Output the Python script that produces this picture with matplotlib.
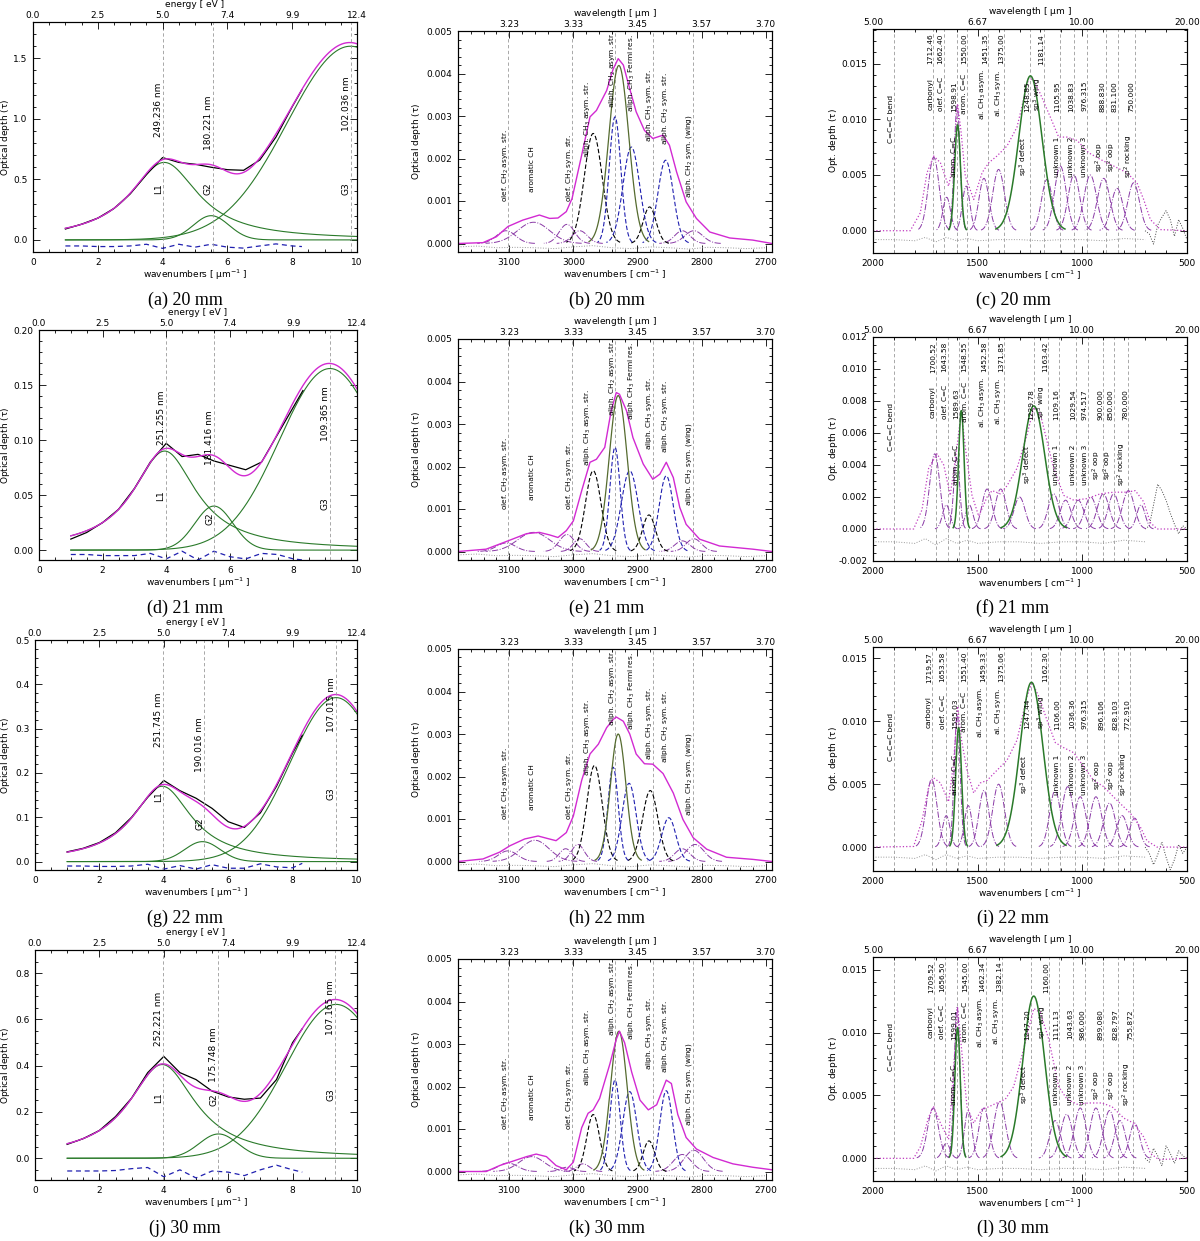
import numpy as np
import matplotlib.pyplot as plt
from matplotlib.ticker import MultipleLocator, FixedLocator, FormatStrFormatter

plt.rcParams['font.family'] = 'DejaVu Sans'
plt.rcParams['font.size'] = 6.5
plt.rcParams['mathtext.default'] = 'regular'

# ---------------- UV panels (a, d, g, j) ----------------
uv_captions = ['(a) 20 mm', '(d) 21 mm', '(g) 22 mm', '(j) 30 mm']
uv_ylim = [(-0.1, 1.8), (-0.009, 0.2), (-0.019, 0.5), (-0.094, 0.9)]
uv_yticks = [[0.0, 0.5, 1.0, 1.5], [0.0, 0.05, 0.10, 0.15, 0.20],
             [0.0, 0.1, 0.2, 0.3, 0.4, 0.5], [0.0, 0.2, 0.4, 0.6, 0.8]]
uv_yminor = [0.1, 0.01, 0.02, 0.05]
uv_yfmt = ['%.1f', '%.2f', '%.1f', '%.1f']
# components: (centre, width, height)
uv_l1 = [(4.05, 1.28, 0.64), (3.95, 1.21, 0.09), (3.95, 1.117, 0.17), (3.95, 1.265, 0.405)]
uv_g2 = [(5.5, 0.55, 0.20), (5.5, 0.60, 0.04), (5.2, 0.55, 0.045), (5.7, 0.60, 0.105)]
uv_g3 = [(9.8, 1.95, 1.60), (9.15, 1.59, 0.165), (9.35, 1.42, 0.37), (9.35, 1.55, 0.665)]
uv_x = [1.0, 1.5, 2.0, 2.5, 3.0, 3.5, 4.0, 4.5, 5.0, 5.5, 6.0, 6.5, 7.0, 7.5, 8.0, 8.3]
uv_data = [
    [0.09, 0.13, 0.18, 0.26, 0.38, 0.54, 0.68, 0.64, 0.625, 0.60, 0.58, 0.575, 0.66, 0.85, 1.10, 1.24],
    [0.010, 0.016, 0.025, 0.037, 0.056, 0.080, 0.097, 0.085, 0.087, 0.081, 0.077, 0.073, 0.080, 0.105, 0.130, 0.145],
    [0.022, 0.030, 0.043, 0.065, 0.100, 0.145, 0.183, 0.160, 0.143, 0.120, 0.090, 0.077, 0.110, 0.170, 0.245, 0.285],
    [0.060, 0.085, 0.120, 0.180, 0.260, 0.370, 0.440, 0.370, 0.340, 0.290, 0.265, 0.255, 0.260, 0.340, 0.500, 0.560],
]
uv_resid = [
    [-0.05, -0.05, -0.055, -0.055, -0.05, -0.036, -0.07, -0.036, -0.06, -0.036, -0.06, -0.068, -0.05, -0.033, -0.05, -0.055],
    [-0.004, -0.004, -0.005, -0.005, -0.005, -0.003, -0.008, -0.001, -0.009, -0.001, -0.006, -0.008, -0.003, -0.004, -0.008, -0.009],
    [-0.01, -0.01, -0.011, -0.011, -0.01, -0.006, -0.017, -0.009, -0.017, -0.007, -0.015, -0.015, -0.005, -0.012, -0.014, -0.004],
    [-0.055, -0.055, -0.055, -0.053, -0.045, -0.04, -0.08, -0.05, -0.085, -0.055, -0.06, -0.075, -0.05, -0.03, -0.05, -0.06],
]
uv_nm = [[249.236, 180.221, 102.036], [251.255, 181.416, 109.365],
         [251.745, 190.016, 107.015], [252.221, 175.748, 107.165]]
uv_comp_names = ['L1', 'G2', 'G3']
uv_nm_y = [[0.62, 0.56, 0.645], [0.62, 0.53, 0.636], [0.654, 0.545, 0.72], [0.70, 0.547, 0.75]]
uv_name_y = [[0.275, 0.275, 0.275], [0.28, 0.18, 0.245], [0.32, 0.20, 0.33], [0.357, 0.35, 0.372]]

# ---------------- 3.4 micron panels (b, e, h, k) ----------------
ch_captions = ['(b) 20 mm', '(e) 21 mm', '(h) 22 mm', '(k) 30 mm']
ch_obs_x = [
    [3180, 3141, 3120, 3102, 3079, 3053, 3037, 3024, 3011, 3002, 2987, 2974, 2964, 2948, 2938, 2930, 2922,
     2912, 2902, 2889, 2876, 2860, 2850, 2839, 2824, 2808, 2787, 2756, 2720, 2690],
    [3180, 3136, 3102, 3073, 3053, 3037, 3024, 3011, 3000, 2987, 2974, 2964, 2951, 2941, 2933, 2928, 2917,
     2907, 2891, 2876, 2865, 2855, 2844, 2834, 2824, 2803, 2772, 2720, 2690],
    [3180, 3141, 3115, 3099, 3076, 3055, 3040, 3027, 3011, 3000, 2987, 2974, 2961, 2948, 2938, 2933, 2922,
     2912, 2902, 2889, 2876, 2860, 2844, 2829, 2813, 2792, 2761, 2720, 2690],
    [3180, 3136, 3115, 3099, 3073, 3058, 3042, 3027, 3011, 3000, 2987, 2977, 2969, 2959, 2943, 2933, 2928,
     2920, 2909, 2896, 2883, 2870, 2855, 2847, 2837, 2824, 2808, 2782, 2751, 2720, 2690],
]
ch_obs_y = [
    [0.0, 0.00002, 0.00016, 0.00040, 0.00055, 0.00067, 0.00059, 0.00060, 0.00075, 0.00106, 0.00208, 0.00298,
     0.00313, 0.00360, 0.00410, 0.00435, 0.00420, 0.00364, 0.00310, 0.00266, 0.00247, 0.00255, 0.00231,
     0.00169, 0.00098, 0.00059, 0.00027, 0.00013, 0.00008, 0.0],
    [0.0, 0.000055, 0.00025, 0.00042, 0.00045, 0.00039, 0.00033, 0.00049, 0.00072, 0.00143, 0.00210, 0.00217,
     0.00245, 0.00331, 0.00374, 0.00370, 0.00331, 0.00268, 0.00206, 0.00170, 0.00182, 0.00210, 0.00174,
     0.00104, 0.00064, 0.00029, 0.00013, 0.000055, 0.0],
    [0.0, 0.00006, 0.00022, 0.00037, 0.00053, 0.00060, 0.00054, 0.00049, 0.00068, 0.00107, 0.00191, 0.00253,
     0.00276, 0.00315, 0.00334, 0.00340, 0.00330, 0.00300, 0.00253, 0.00230, 0.00229, 0.00207, 0.00161,
     0.00099, 0.00056, 0.00029, 0.00010, 0.00005, 0.0],
    [0.0, 0.0, 0.00014, 0.00022, 0.00035, 0.00041, 0.00035, 0.00014, 0.00004, 0.00022, 0.00103, 0.00137,
     0.00145, 0.00172, 0.00253, 0.00311, 0.00330, 0.00303, 0.00234, 0.00168, 0.00145, 0.00157, 0.00215,
     0.00207, 0.00134, 0.00080, 0.00053, 0.00033, 0.00018, 0.00010, 0.00004],
]
# (centre, sigma, height)
ch_black = [
    [(2969, 14, 0.00259), (2881, 10, 0.00086)],
    [(2969, 12, 0.00190), (2882, 10, 0.00086)],
    [(2967, 12, 0.00226), (2880, 12, 0.00167)],
    [(2969, 10, 0.00134), (2882, 9, 0.00072)],
]
ch_blue = [
    [(2935, 9, 0.00298), (2909.5, 13, 0.00227), (2856, 12, 0.00196)],
    [(2935, 8, 0.00245), (2912, 13, 0.00190), (2855, 11, 0.00178)],
    [(2938, 8, 0.00222), (2913, 11, 0.00184), (2851, 11, 0.00103)],
    [(2935, 8, 0.00215), (2912, 11, 0.00188), (2855, 10, 0.00190)],
]
ch_olive = [(2929, 15.5, 0.00419), (2930, 14, 0.00367), (2930, 12, 0.00300), (2929, 13, 0.00330)]
ch_purple = [
    [(3105, 15, 0.00030), (3062, 25, 0.00050), (3010, 12, 0.00045), (2990, 12, 0.00030),
     (2830, 12, 0.00030), (2812, 14, 0.00030)],
    [(3105, 15, 0.00020), (3062, 25, 0.00045), (3010, 12, 0.00040), (2990, 10, 0.00030),
     (2830, 12, 0.00025), (2812, 12, 0.00030)],
    [(3102, 15, 0.00025), (3060, 22, 0.00050), (3012, 10, 0.00030), (2993, 10, 0.00040),
     (2830, 12, 0.00030), (2810, 14, 0.00040)],
    [(3102, 15, 0.00020), (3065, 20, 0.00035), (3010, 10, 0.00010), (2985, 10, 0.00018),
     (2830, 14, 0.00040), (2812, 15, 0.00050)],
]
ch_res_x = [3180, 3150, 3120, 3090, 3060, 3030, 3000, 2970, 2940, 2910, 2880, 2850, 2820, 2790, 2760, 2730, 2700]
ch_res_y = [-0.00008, -0.00006, -0.0001, -0.00009, -0.0001, -0.00012, -0.00008, -0.00005, -0.0001,
            -0.00012, -0.00008, -0.0001, -0.00013, -0.00009, -0.0001, -0.00012, -0.0001]
ch_lines = [3102, 3002, 2935, 2876, 2814]
ch_label_x = [3106, 3064, 3006, 2977, 2938, 2908, 2881, 2855, 2819]
ch_label_y = [0.00098, 0.00122, 0.00098, 0.0020, 0.00318, 0.0031, 0.00239, 0.00231, 0.00106]
ch_labels = ['olef. CH$_2$ asym. str.', 'aromatic CH', 'olef. CH$_2$ sym. str.',
             'aliph. CH$_3$ asym. str.', 'aliph. CH$_2$ asym. str.', 'aliph. CH$_3$ Fermi res.',
             'aliph. CH$_3$ sym. str.', 'aliph. CH$_2$ sym. str.', 'aliph. CH$_2$ sym. (wing)']

# ---------------- 5-20 micron panels (c, f, i, l) ----------------
ir_captions = ['(c) 20 mm', '(f) 21 mm', '(i) 22 mm', '(l) 30 mm']
ir_ylim = [(-0.002, 0.0181), (-0.002, 0.012), (-0.0019, 0.0159), (-0.0018, 0.016)]
ir_yticks = [[0.0, 0.005, 0.010, 0.015], [-0.002, 0.0, 0.002, 0.004, 0.006, 0.008, 0.010, 0.012],
             [0.0, 0.005, 0.010, 0.015], [0.0, 0.005, 0.010, 0.015]]
ir_yminor = [0.001, 0.0005, 0.001, 0.001]
ir_obs_x = [
    [2000, 1822, 1774, 1742, 1710, 1678, 1639, 1615, 1596, 1580, 1559, 1519, 1479, 1447, 1408, 1360, 1312,
     1256, 1232, 1201, 1153, 1113, 1073, 1025, 970, 914, 850, 787, 739, 707, 675, 627, 500],
    [2000, 1806, 1766, 1734, 1694, 1662, 1631, 1599, 1578, 1559, 1527, 1495, 1455, 1431, 1392, 1360, 1312,
     1264, 1232, 1201, 1169, 1137, 1089, 1041, 977, 914, 850, 787, 747, 707, 675, 643, 500],
    [2000, 1806, 1766, 1734, 1710, 1678, 1639, 1615, 1596, 1577, 1551, 1519, 1487, 1455, 1408, 1360, 1312,
     1264, 1240, 1209, 1169, 1129, 1089, 1041, 994, 946, 898, 834, 771, 723, 691, 643, 500],
    [2000, 1806, 1774, 1734, 1710, 1678, 1639, 1615, 1596, 1577, 1551, 1519, 1479, 1447, 1408, 1368, 1328,
     1280, 1232, 1201, 1161, 1113, 1073, 1025, 970, 906, 858, 802, 755, 707, 675, 635, 500],
]
ir_obs_y = [
    [0.0, 0.0, 0.0016, 0.0052, 0.0067, 0.0061, 0.0040, 0.0061, 0.0114, 0.0090, 0.0049, 0.0028, 0.0052,
     0.0061, 0.0067, 0.0076, 0.0093, 0.0137, 0.0135, 0.0123, 0.0102, 0.0084, 0.0084, 0.0081, 0.0070,
     0.0064, 0.0058, 0.0052, 0.0043, 0.0028, 0.0010, 0.0001, 0.0],
    [0.0, 0.0, 0.0012, 0.0038, 0.0047, 0.0040, 0.0021, 0.0051, 0.0074, 0.0051, 0.0021, 0.0008, 0.0020,
     0.0024, 0.0022, 0.0027, 0.0038, 0.0059, 0.0076, 0.0072, 0.0055, 0.0038, 0.0021, 0.0018, 0.0019,
     0.0022, 0.0023, 0.0023, 0.0024, 0.0017, 0.0004, 0.0, 0.0],
    [0.0, 0.00005, 0.0021, 0.0048, 0.0055, 0.0051, 0.0036, 0.0067, 0.0112, 0.0085, 0.0061, 0.0043, 0.0051,
     0.0053, 0.0061, 0.0069, 0.0085, 0.0120, 0.0131, 0.0120, 0.0101, 0.0083, 0.0079, 0.0075, 0.0064,
     0.0053, 0.0048, 0.0037, 0.0027, 0.0016, 0.0005, 0.0, 0.0],
    [0.0, 0.0, 0.0009, 0.0033, 0.0041, 0.0028, 0.0015, 0.0071, 0.0120, 0.0087, 0.0041, 0.0028, 0.0039,
     0.0041, 0.0044, 0.0047, 0.0057, 0.0087, 0.0119, 0.0116, 0.0095, 0.0057, 0.0047, 0.0043, 0.0044,
     0.0044, 0.0041, 0.0032, 0.0028, 0.0017, 0.0004, -0.0001, 0.0],
]
ir_green = [
    [(1596, 14, 0.0095), (1248, 55, 0.0139)],
    [(1578, 13, 0.0074), (1232, 52, 0.0077)],
    [(1591, 14, 0.0095), (1243, 55, 0.0131)],
    [(1596, 13, 0.0104), (1232, 52, 0.0129)],
]
ir_purple = [
    [(1710, 26, 0.0066), (1648, 18, 0.0030), (1598, 14, 0.0112), (1555, 18, 0.0040), (1470, 24, 0.0047),
     (1400, 28, 0.0055), (1169, 26, 0.0046), (1105, 28, 0.0058), (1040, 28, 0.0050),
     (962, 30, 0.0050), (898, 30, 0.0047), (834, 28, 0.0038), (755, 28, 0.0043)],
    [(1705, 24, 0.0047), (1650, 18, 0.0015), (1600, 14, 0.0045), (1540, 18, 0.0015), (1455, 24, 0.0025),
     (1390, 26, 0.0025), (1300, 26, 0.0020), (1137, 26, 0.0022), (1080, 26, 0.0018), (1020, 28, 0.0018),
     (960, 28, 0.0020), (900, 28, 0.0022), (850, 26, 0.0022), (780, 28, 0.0024), (720, 20, 0.0015)],
    [(1720, 26, 0.0054), (1650, 18, 0.0025), (1598, 14, 0.0105), (1545, 18, 0.0033), (1470, 24, 0.0045),
     (1400, 28, 0.0050), (1130, 26, 0.0045), (1070, 28, 0.0048), (1010, 28, 0.0040), (935, 28, 0.0040),
     (870, 28, 0.0035), (810, 26, 0.0025), (750, 24, 0.0023)],
    [(1713, 26, 0.0040), (1650, 18, 0.0012), (1598, 14, 0.0120), (1545, 18, 0.0038), (1470, 24, 0.0040),
     (1395, 28, 0.0045), (1130, 26, 0.0030), (1075, 28, 0.0035), (1010, 28, 0.0040), (935, 28, 0.0040),
     (870, 28, 0.0038), (820, 26, 0.0030), (750, 24, 0.0028)],
]
ir_res_x = [2000, 1900, 1800, 1750, 1700, 1650, 1600, 1550, 1500, 1400, 1300, 1200, 1100, 1000, 900, 800, 700]
ir_res_y = [-0.0008, -0.0008, -0.0009, -0.0006, -0.0010, -0.0006, -0.0009, -0.0007, -0.0009, -0.0008,
            -0.0008, -0.0009, -0.0008, -0.0008, -0.0009, -0.0007, -0.0008]
ir_tail_x = [700, 680, 660, 640, 620, 600, 580, 560, 540, 520, 500]
ir_tail_y = [
    [0.0, -0.0003, -0.0012, 0.0005, 0.0012, 0.0018, 0.0010, -0.0005, 0.0010, 0.0002, -0.0008],
    [0.0, 0.0002, 0.0015, 0.0028, 0.0024, 0.0018, 0.0010, 0.0003, -0.0003, 0.0002, 0.0],
    [0.0, -0.0005, -0.0014, -0.0006, 0.0004, -0.0008, -0.0018, -0.0010, 0.0002, -0.0005, 0.0],
    [0.0, -0.0003, 0.0008, 0.0002, -0.0006, 0.0010, 0.0004, -0.0004, 0.0006, 0.0002, 0.0],
]
ir_bend = 1901
ir_lines_a = [[1712.46, 1662.40, 1550.00, 1451.35, 1375.00, 1181.14],
              [1700.52, 1643.58, 1548.55, 1452.58, 1371.85, 1163.42],
              [1719.57, 1653.58, 1551.40, 1459.33, 1375.06, 1162.30],
              [1709.52, 1656.50, 1545.00, 1462.34, 1382.14, 1160.00]]
ir_lines_b = [[1598.91, 1248.85, 1105.95, 1038.83, 976.315, 888.830, 831.100, 750.000],
              [1589.63, 1229.78, 1109.16, 1029.54, 974.517, 900.000, 850.000, 780.000],
              [1595.03, 1247.44, 1106.00, 1036.36, 976.315, 896.106, 828.103, 772.910],
              [1599.01, 1247.20, 1111.13, 1043.63, 986.000, 899.080, 828.797, 755.872]]
ir_names_a = ['carbonyl', 'olef. C=C', 'arom. C=C', 'al. CH$_3$ asym.', 'al. CH$_3$ sym.', 'sp$^3$ wing']
ir_names_b = ['arom. C=C', 'sp$^3$ defect', 'unknown 1', 'unknown 2', 'unknown 3',
              'sp$^2$ oop', 'sp$^2$ oop', 'sp$^2$ rocking']

# ---------------- helpers ----------------
W, H = 1200, 1241
row_off = [0, 308, 618, 928]
uv_left = [33, 39, 35, 35]
MAG = '#d22ad2'
GRN = '#2a7a2a'
BLU = '#2020b0'
PUR = '#8a3aa6'
GRY = '#9a9a9a'


def gauss(x, c, s, h):
    return h * np.exp(-0.5 * ((x - c) / s) ** 2)


def lorentz(x, c, g, h):
    return h / (1 + ((x - c) / g) ** 2)


def box(fig, l, t, r, b):
    return fig.add_axes([l / W, 1 - b / H, (r - l) / W, (b - t) / H])


def dress(ax, xlim, xticks, xminor, toplabels, toptitle, xlabel, ylabel, ylim, yticks, yminor, yfmt, ylab_x):
    ax.set_xlim(xlim)
    ax.set_ylim(ylim)
    ax.xaxis.set_major_locator(FixedLocator(xticks))
    ax.xaxis.set_minor_locator(MultipleLocator(xminor))
    ax.yaxis.set_major_locator(FixedLocator(yticks))
    ax.yaxis.set_minor_locator(MultipleLocator(yminor))
    ax.yaxis.set_major_formatter(FormatStrFormatter(yfmt))
    ax.xaxis.set_major_formatter(FormatStrFormatter('%d'))
    ax.tick_params(which='both', direction='in', right=True, width=0.6, labelsize=6.5, pad=4)
    ax.tick_params(which='major', length=5)
    ax.tick_params(which='minor', length=2.5)
    ax.set_xlabel(xlabel, fontsize=6.5, labelpad=1)
    ax.set_ylabel(ylabel, fontsize=6.5)
    ax.yaxis.set_label_coords(ylab_x, 0.5)
    for sp in ax.spines.values():
        sp.set_linewidth(0.8)
    top = ax.twiny()
    top.set_xlim(xlim)
    top.xaxis.set_major_locator(FixedLocator(xticks))
    top.xaxis.set_minor_locator(MultipleLocator(xminor))
    top.set_xticklabels(toplabels)
    top.tick_params(which='both', direction='in', width=0.6, labelsize=6.5, pad=1.5)
    top.tick_params(which='major', length=5)
    top.tick_params(which='minor', length=2.5)
    top.set_xlabel(toptitle, fontsize=6.5, labelpad=3)


fig = plt.figure(figsize=(12, 12.41), dpi=100)

# UV column
uv_ticks = [0, 2, 4, 6, 8, 10]
xs = np.linspace(1, 10, 400)
for i in range(4):
    off = row_off[i]
    left = uv_left[i]
    ax = box(fig, left, 22 + off, 357, 252 + off)
    l1 = lorentz(xs, *uv_l1[i])
    g2 = gauss(xs, *uv_g2[i])
    g3 = gauss(xs, *uv_g3[i])
    for comp in (l1, g2, g3):
        ax.plot(xs, comp, color=GRN, lw=0.8)
    ax.plot(uv_x, uv_data[i], color='black', lw=0.9)
    ax.plot(xs, l1 + g2 + g3, color=MAG, lw=1.0)
    ax.plot(uv_x, uv_resid[i], color=BLU, lw=0.9, ls=(0, (4, 3)))
    tr = ax.get_xaxis_transform()
    for k, nm in enumerate(uv_nm[i]):
        xl = 1000.0 / nm
        ax.axvline(xl, color=GRY, lw=0.6, ls=(0, (4, 3)))
        ax.text(xl, uv_nm_y[i][k], '%.3f nm' % nm, rotation=90, ha='right', va='center',
                transform=tr, fontsize=6.5)
        ax.text(xl, uv_name_y[i][k], uv_comp_names[k], rotation=90, ha='right', va='center',
                transform=tr, fontsize=6.5)
    dress(ax, (0, 10), uv_ticks, 0.5, ['%.1f' % (1.23984 * t) for t in uv_ticks],
          'energy [ eV ]', 'wavenumbers [ $\\mu m^{-1}$ ]', 'Optical depth ($\\tau$)',
          uv_ylim[i], uv_yticks[i], uv_yminor[i], uv_yfmt[i], (12.0 - left) / (357 - left))
    fig.text(185 / W, 1 - (300 + off) / H, uv_captions[i], family='Liberation Serif',
             fontsize=13, ha='center', va='center')

# 3.4 micron column
ch_ticks = [3100, 3000, 2900, 2800, 2700]
for i in range(4):
    off = row_off[i]
    ax = box(fig, 458, 31 + off, 772, 252 + off)
    for ln in ch_lines:
        ax.axvline(ln, color=GRY, lw=0.6, ls=(0, (4, 3)))
    ax.plot(ch_res_x, ch_res_y, color=GRY, lw=0.7, ls=':')
    for c, s, h in ch_purple[i]:
        xx = np.linspace(c - 3 * s, c + 3 * s, 80)
        ax.plot(xx, gauss(xx, c, s, h), color=PUR, lw=0.7, ls='-.')
    for c, s, h in ch_black[i]:
        xx = np.linspace(c - 3 * s, c + 3 * s, 80)
        ax.plot(xx, gauss(xx, c, s, h), color='black', lw=0.8, ls=(0, (4, 2)))
    for c, s, h in ch_blue[i]:
        xx = np.linspace(c - 3 * s, c + 3 * s, 80)
        ax.plot(xx, gauss(xx, c, s, h), color=BLU, lw=0.8, ls=(0, (4, 2)))
    c, s, h = ch_olive[i]
    xx = np.linspace(c - 3 * s, c + 3 * s, 80)
    ax.plot(xx, gauss(xx, c, s, h), color='#556b2f', lw=0.9)
    ax.plot(ch_obs_x[i], ch_obs_y[i], color=MAG, lw=1.0)
    for k, lab in enumerate(ch_labels):
        ax.text(ch_label_x[k], ch_label_y[k], lab, rotation=90, ha='center', va='bottom', fontsize=5.3)
    dress(ax, (3180, 2690), ch_ticks, 20, ['%.2f' % (1e4 / t) for t in ch_ticks],
          'wavelength [ $\\mu$m ]', 'wavenumbers [ cm$^{-1}$ ]', 'Optical depth ($\\tau$)',
          (-0.0002, 0.005), [0.0, 0.001, 0.002, 0.003, 0.004, 0.005], 0.0002, '%.3f', -0.11)
    fig.text(607 / W, 1 - (300 + off) / H, ch_captions[i], family='Liberation Serif',
             fontsize=13, ha='center', va='center')

# 5-20 micron column
ir_ticks = [2000, 1500, 1000, 500]
for i in range(4):
    off = row_off[i]
    ax = box(fig, 873, 29 + off, 1187, 253 + off)
    tr = ax.get_xaxis_transform()
    ax.axvline(ir_bend, color=GRY, lw=0.6, ls=(0, (4, 3)))
    ax.text(ir_bend, 0.60, 'C=C=C bend', rotation=90, ha='right', va='center', transform=tr, fontsize=5.3)
    for k, v in enumerate(ir_lines_a[i]):
        ax.axvline(v, color=GRY, lw=0.6, ls=(0, (4, 3)))
        ax.text(v, 0.91, '%.2f' % v, rotation=90, ha='right', va='center', transform=tr, fontsize=5.3)
        ax.text(v, 0.71, ir_names_a[k], rotation=90, ha='right', va='center', transform=tr, fontsize=5.3)
    for k, v in enumerate(ir_lines_b[i]):
        ax.axvline(v, color=GRY, lw=0.6, ls=(0, (4, 3)))
        txt = '%.2f' % v if v >= 1000 else '%.3f' % v
        ax.text(v, 0.70, txt, rotation=90, ha='right', va='center', transform=tr, fontsize=5.3)
        ax.text(v, 0.43, ir_names_b[k], rotation=90, ha='right', va='center', transform=tr, fontsize=5.3)
    ax.plot(ir_res_x, ir_res_y, color=GRY, lw=0.7, ls=':')
    ax.plot(ir_tail_x, ir_tail_y[i], color='#444444', lw=0.7, ls=':')
    for c, s, h in ir_purple[i]:
        xx = np.linspace(c - 3 * s, c + 3 * s, 80)
        ax.plot(xx, gauss(xx, c, s, h), color=PUR, lw=0.7, ls='-.')
    ax.plot(ir_obs_x[i], ir_obs_y[i], color='#c03cc0', lw=0.9, ls=':')
    for c, s, h in ir_green[i]:
        xx = np.linspace(c - 3 * s, c + 3 * s, 80)
        ax.plot(xx, gauss(xx, c, s, h), color=GRN, lw=1.1)
    dress(ax, (2000, 500), ir_ticks, 100, ['%.2f' % (1e4 / t) for t in ir_ticks],
          'wavelength [ $\\mu$m ]', 'wavenumbers [ cm$^{-1}$ ]', 'Opt. depth ($\\tau$)',
          ir_ylim[i], ir_yticks[i], ir_yminor[i], '%.3f', -0.105)
    fig.text(1013 / W, 1 - (300 + off) / H, ir_captions[i], family='Liberation Serif',
             fontsize=13, ha='center', va='center')

fig.savefig('out.png', dpi=100)
